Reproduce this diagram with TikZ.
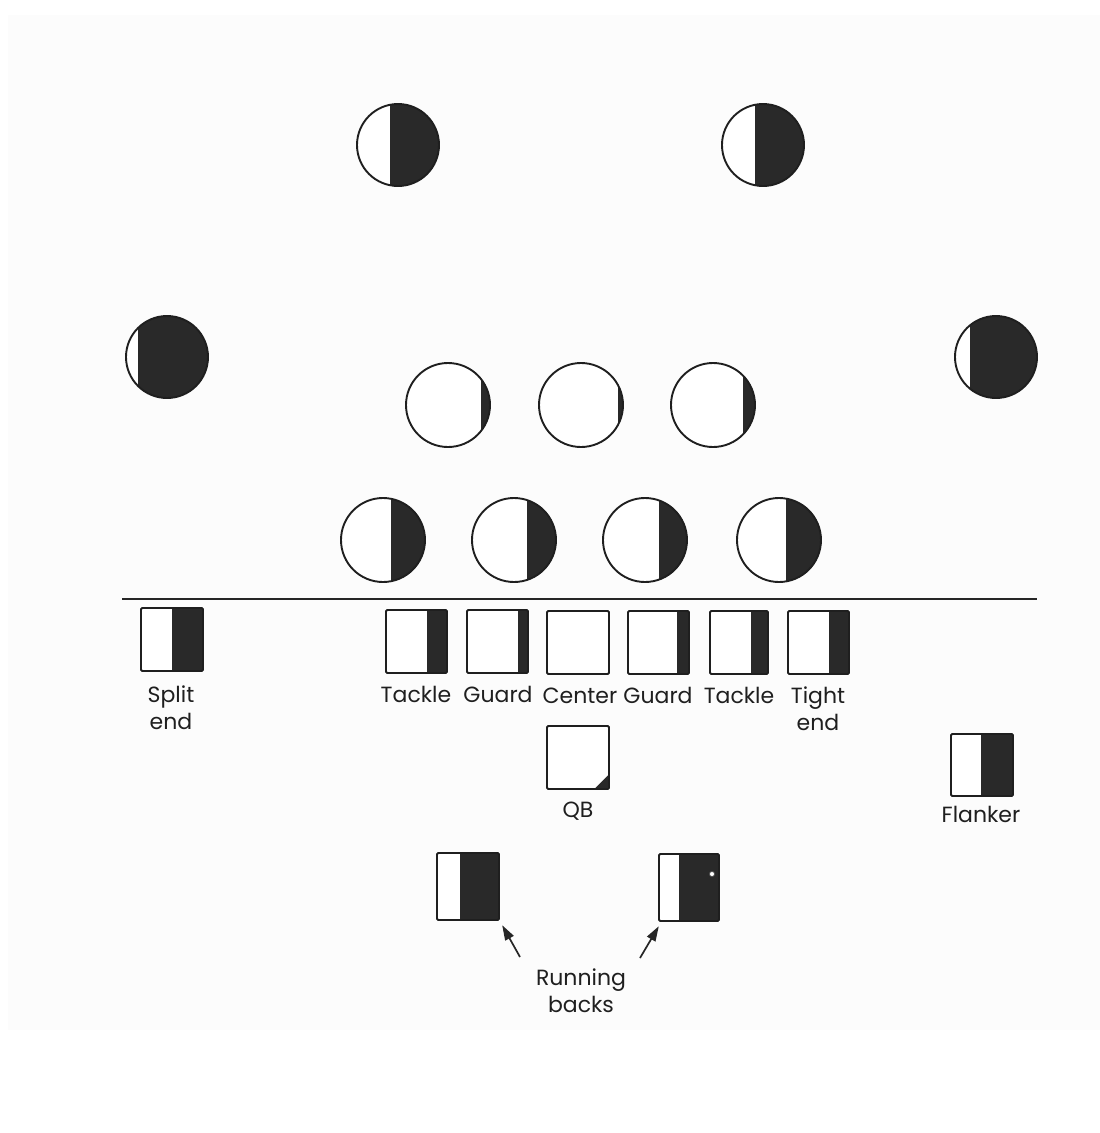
\documentclass[tikz,border=0pt]{standalone}
\usepackage{fontspec}
\setmainfont{Poppins}
\usetikzlibrary{arrows.meta}
% defender: circle with its right-hand part inked from x = split
\newcommand\defender[5]{% name, cx, cy, r, split x
  \node[circle, inner sep=0pt, minimum size={2*#4*1pt}] (#1) at (#2,#3) {};
  \fill[white] (#2,#3) circle[radius=#4];
  \begin{scope}
    \clip (#2,#3) circle[radius=#4];
    \fill[ink] (#5,#3-#4-2) rectangle (#2+#4+2,#3+#4+2);
  \end{scope}
  \draw[outline] (#2,#3) circle[radius=#4];
}
% attacker: square with its right-hand part inked from x = split
\newcommand\attacker[6]{% name, left, top, right, bottom, split x
  \node[inner sep=0pt, minimum width={(#4-#2)*1pt}, minimum height={(#5-#3)*1pt}]
    (#1) at ({(#2+#4)/2},{(#3+#5)/2}) {};
  \fill[white] (#2,#3) rectangle (#4,#5);
  \fill[ink] (#6,#3) rectangle (#4,#5);
  \draw[outline, rounded corners=1.2pt] (#2,#3) rectangle (#4,#5);
}
\begin{document}
\begin{tikzpicture}[x=1pt,y=-1pt,
  outline/.style={line width=1.9pt, draw=black!88},
  ink/.style={fill=black!84},
  lbl/.style={font=\fontsize{22}{27}\selectfont, text=black!88, align=center,
              inner sep=0pt, anchor=base},
  arr/.style={line width=1.7pt, draw=black!85,
              -{Triangle[length=15pt,width=9.5pt]}}]
\useasboundingbox (0,0) rectangle (1100,1133);
\fill[white] (0,0) rectangle (1100,1133);
\fill[black!1.2] (8,15) rectangle (1100,1030);

% deep backs
\defender{sL}{398}{145}{41}{390}
\defender{sR}{763}{145}{41}{755}
% corners
\defender{cL}{167}{357}{41}{138}
\defender{cR}{996}{357}{41}{970}
% linebackers
\defender{lb1}{448}{405}{42}{481}
\defender{lb2}{581}{405}{42}{618}
\defender{lb3}{713}{405}{42}{743}
% front line
\defender{dl1}{383}{540}{42}{391}
\defender{dl2}{514}{540}{42}{527}
\defender{dl3}{645}{540}{42}{659}
\defender{dl4}{779}{540}{42}{786}

% line of scrimmage
\coordinate (losL) at (122,599);
\coordinate (losR) at (1037,599);
\draw[line width=1.6pt, draw=black!85] (losL) -- (losR);

% offensive line
\attacker{se}{141}{608}{203}{671}{172}
\attacker{lt}{386}{610}{447}{673}{427}
\attacker{lg}{467}{610}{528}{673}{518}
\attacker{ce}{547}{611}{609}{674}{609}
\attacker{rg}{628}{611}{689}{674}{677}
\attacker{rt}{710}{611}{768}{674}{751}
\attacker{te}{788}{611}{849}{674}{829}

% quarterback
\attacker{qb}{547}{726}{609}{789}{609}
\fill[ink] ([shift={(-1,-1)}]qb.south east) -- ++(-13,0) -- ++(13,-13) -- cycle;

% flanker
\attacker{fl}{951}{734}{1013}{796}{981}

% running backs
\attacker{rbL}{437}{853}{499}{920}{460}
\attacker{rbR}{659}{854}{719}{921}{679}
\fill[white] (712,874) circle[radius=2.6];
\draw[line width=0.8pt, draw=black!70] (712,874) circle[radius=2.6];

% labels (base = baseline of the last line)
\node[lbl] (tSE) at (171,729) {Split\\end};
\node[lbl] (tLT) at (416,702) {Tackle};
\node[lbl] (tLG) at (498,702) {Guard};
\node[lbl] (tCE) at (580,703) {Center};
\node[lbl] (tRG) at (658,703) {Guard};
\node[lbl] (tRT) at (739,703) {Tackle};
\node[lbl] (tTE) at (818,730) {Tight\\end};
\node[lbl] (tQB) at (578,817) {QB};
\node[lbl] (tFL) at (981,822) {Flanker};
\node[lbl] (tRB) at (581,1012) {Running\\backs};

% pointers to the running backs
\coordinate (pL) at (520,957);
\coordinate (pR) at (640,958);
\draw[arr] (pL) -- ([shift={(3,5)}]rbL.south east);
\draw[arr] (pR) -- ([shift={(0,5)}]rbR.south west);
\end{tikzpicture}
\end{document}
